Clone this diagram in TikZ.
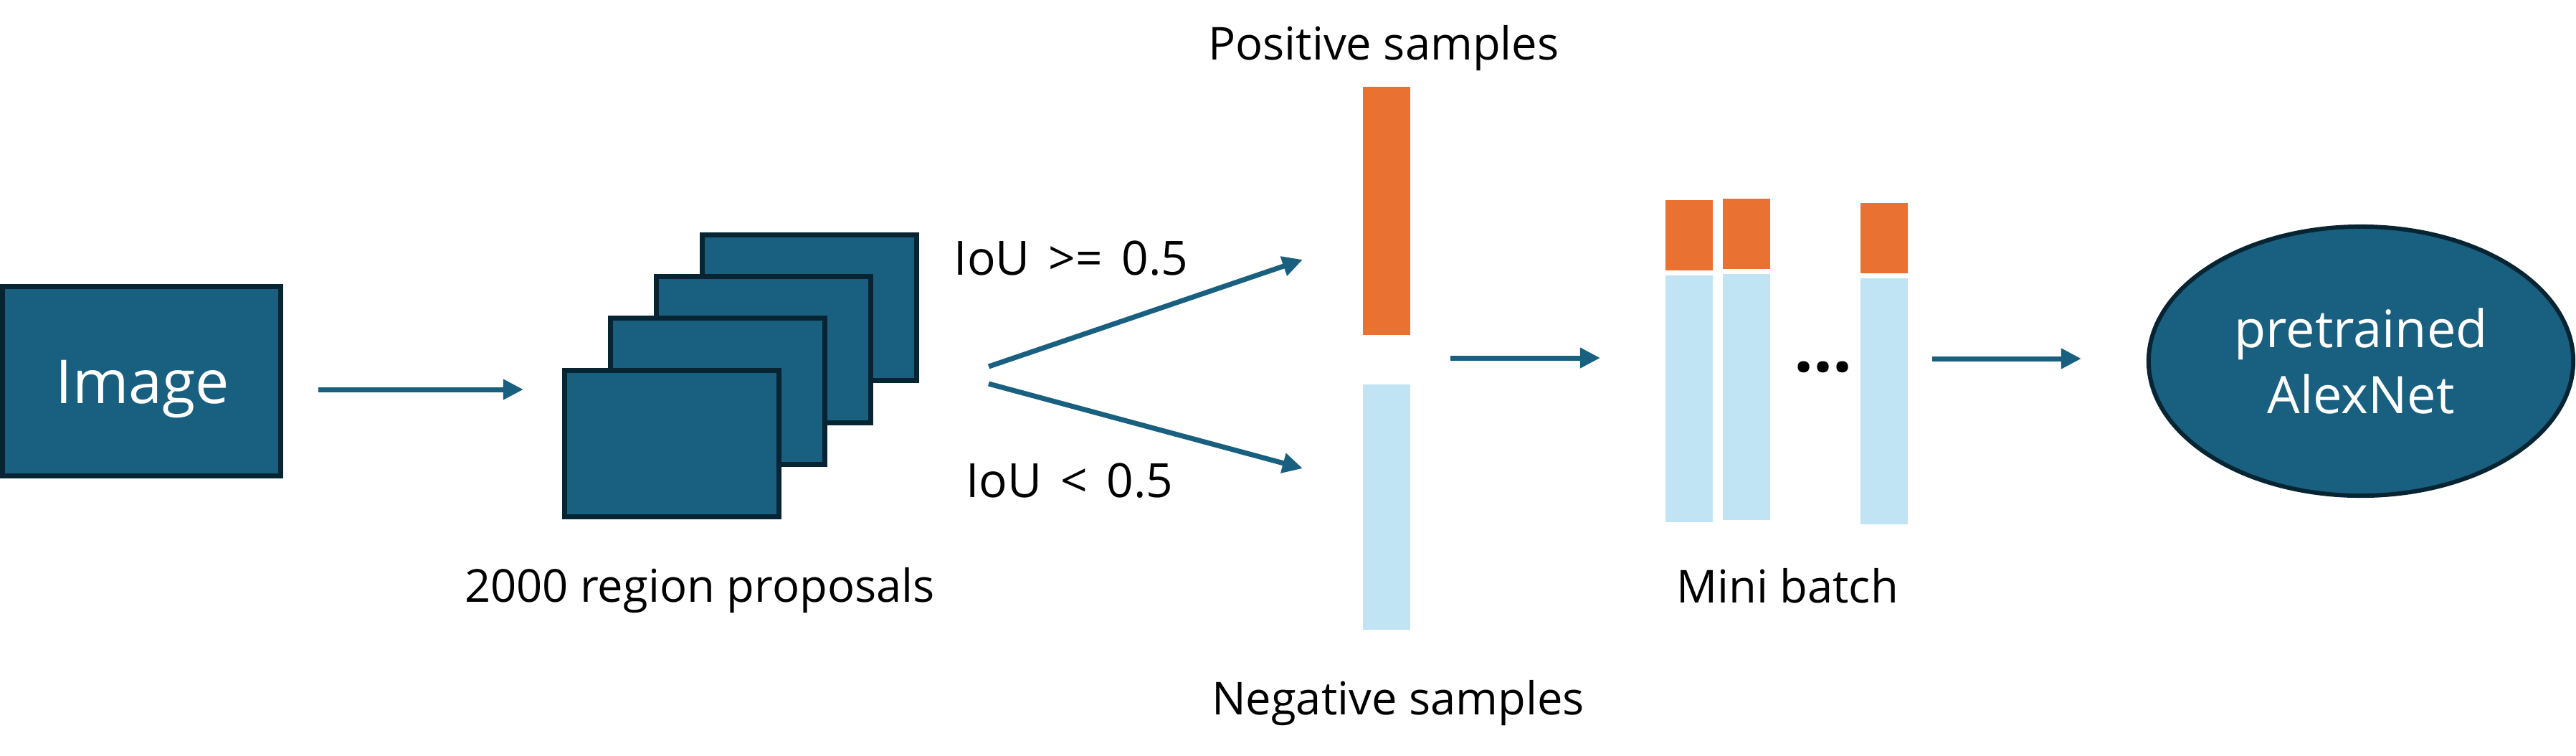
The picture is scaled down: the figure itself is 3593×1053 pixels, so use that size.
\documentclass[tikz,border=0pt]{standalone}
\usepackage{fontspec}
\setmainfont{Open Sans}
\usetikzlibrary{arrows.meta,shapes.geometric}
\definecolor{tealfill}{HTML}{185F80}
\definecolor{navy}{HTML}{072433}
\definecolor{arrowc}{HTML}{185F80}
\definecolor{orng}{HTML}{E97132}
\definecolor{ltblue}{HTML}{C1E4F5}
\begin{document}
\begin{tikzpicture}[x=0.01cm,y=-0.01cm,
  box/.style={draw=navy,fill=tealfill,line width=2pt,inner sep=0pt},
  arr/.style={draw=arrowc,line width=2pt,-{Triangle[length=8pt,width=7.7pt]}},
  bar/.style={inner sep=0pt,outer sep=0pt,minimum width=0.66cm},
  lbl/.style={font=\fontsize{18}{22}\selectfont,inner sep=0pt,text=black},
  iou/.style={font=\fontsize{18.7}{22}\selectfont,inner sep=0pt,text=black}]
\useasboundingbox (0,0) rectangle (3593,1053);

% Image box
\node[box,minimum width=3.88cm,minimum height=2.64cm] (img) at (197.5,531.5) {};
\node[font=\fontsize{24}{28}\selectfont,text=white,inner sep=0pt] (imgtxt) at (199,542) {Image};

% stacked region proposals
\node[box,minimum width=2.99cm,minimum height=2.03cm] (rp4) at (1129,429) {};
\node[box,minimum width=2.99cm,minimum height=2.03cm] (rp3) at (1065,487.5) {};
\node[box,minimum width=2.99cm,minimum height=2.03cm] (rp2) at (1001,545.5) {};
\node[box,minimum width=2.99cm,minimum height=2.03cm] (rp1) at (937,618.5) {};
\node[lbl] (rptxt) at (976,823) {2000 region proposals};

% IoU labels
\node[iou] (iouhi) at (1494,360) {IoU\hspace{0.4em}>=\hspace{0.4em}0.5};
\node[iou] (ioulo) at (1492,670) {IoU\hspace{0.4em}<\hspace{0.4em}0.5};

% positive / negative samples
\node[bar,fill=orng,minimum height=3.46cm] (pos) at (1934,294) {};
\node[bar,fill=ltblue,minimum height=3.42cm] (neg) at (1934,707) {};
\node[lbl] (postxt) at (1930,67) {Positive samples};
\node[lbl] (negtxt) at (1950,980) {Negative samples};

% mini batch
\node[bar,fill=orng,minimum height=0.98cm] (m1o) at (2356,328) {};
\node[bar,fill=ltblue,minimum height=3.44cm] (m1b) at (2356,556) {};
\node[bar,fill=orng,minimum height=0.98cm] (m2o) at (2436,326) {};
\node[bar,fill=ltblue,minimum height=3.43cm] (m2b) at (2436,553.5) {};
\node[bar,fill=orng,minimum height=0.98cm] (m3o) at (2628,332) {};
\node[bar,fill=ltblue,minimum height=3.43cm] (m3b) at (2628,559.5) {};
\node[font=\fontsize{27}{30}\selectfont\bfseries,inner sep=0pt] (dots) at (2543,512) {...};
\node[lbl] (mbtxt) at (2493,817) {Mini batch};

% AlexNet
\node[ellipse,draw=navy,fill=tealfill,line width=1.7pt,inner sep=0pt,
      minimum width=5.92cm,minimum height=3.75cm,text=white,align=center,
      font=\fontsize{20.5}{26}\selectfont] (alex) at (3293,503.5) {pretrained\\AlexNet};

% connectors
\coordinate (a1s) at (444,543);
\coordinate (a1e) at (730,543);
\coordinate (dus) at (1379,511);
\coordinate (due) at (1817,362);
\coordinate (dls) at (1379,535);
\coordinate (dle) at (1817,653);
\coordinate (a2s) at (2023,499);
\coordinate (a2e) at (2232,499);
\coordinate (a3s) at (2695,500);
\coordinate (a3e) at (2903,500);
\draw[arr] (a1s) -- (a1e);
\draw[arr] (dus) -- (due);
\draw[arr] (dls) -- (dle);
\draw[arr] (a2s) -- (a2e);
\draw[arr] (a3s) -- (a3e);
\end{tikzpicture}
\end{document}
